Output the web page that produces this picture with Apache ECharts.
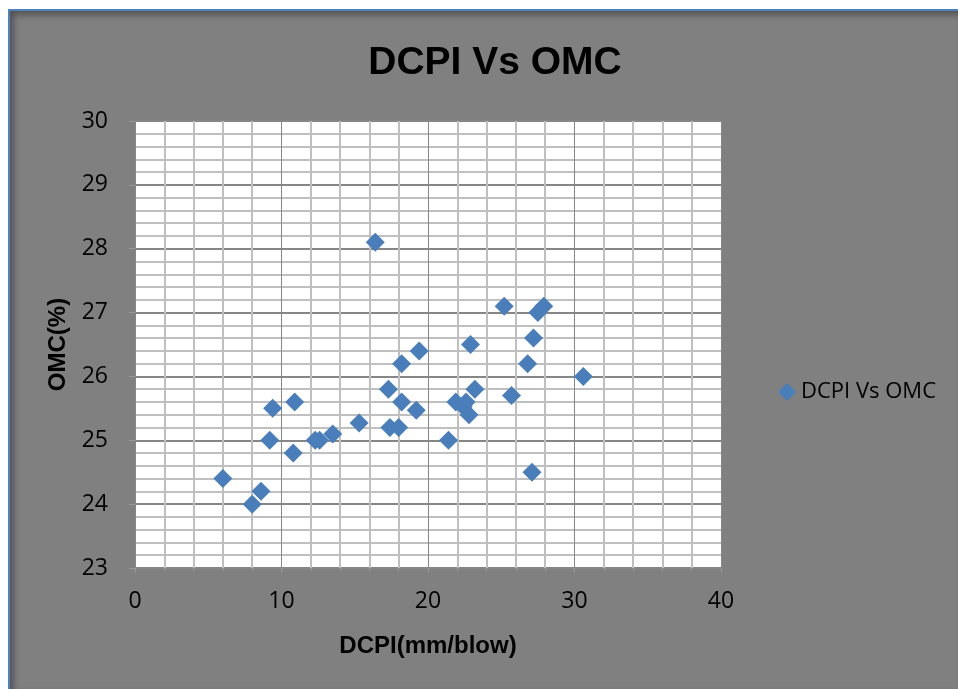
<!DOCTYPE html>
<html>
<head>
<meta charset="utf-8">
<script src="https://cdn.jsdelivr.net/npm/echarts@6/dist/echarts.min.js"></script>
<style>
  html, body { margin:0; padding:0; background:#ffffff; width:958px; height:689px; overflow:hidden; }
  #frame { position:absolute; left:8px; top:9px; width:950px; height:680px; background:#808080;
           border-left:2px solid #4f81bd; border-top:2px solid #4f81bd; box-sizing:border-box;
           box-shadow: inset 4px 4px 6px rgba(0,0,0,0.35); }
  #chart { position:absolute; left:0; top:0; width:958px; height:689px; }
</style>
</head>
<body>
<div id="frame"></div>
<div id="chart"></div>
<script>
const titleText = 'DCPI Vs OMC';
const seriesName = 'DCPI Vs OMC';
const xAxisName = 'DCPI(mm/blow)';
const yAxisName = 'OMC(%)';
const dcpi = [6.0, 8.0, 8.6, 9.2, 9.4, 10.9, 10.8, 12.3, 12.6, 13.5, 15.3, 16.4, 17.3, 17.4, 18.0, 18.2, 18.2, 19.2, 19.4, 21.4, 21.9, 22.4, 22.6, 22.8, 22.9, 23.2, 25.2, 25.7, 26.8, 27.1, 27.2, 27.5, 27.9, 30.6];
const omc  = [24.4, 24.0, 24.2, 25.0, 25.5, 25.6, 24.8, 25.0, 25.0, 25.1, 25.27, 28.1, 25.8, 25.2, 25.2, 26.2, 25.6, 25.47, 26.4, 25.0, 25.6, 25.53, 25.6, 25.4, 26.5, 25.8, 27.1, 25.7, 26.2, 24.5, 26.6, 27.0, 27.1, 26.0];

const chart = echarts.init(document.getElementById('chart'), null, {renderer:'canvas'});
const pts = dcpi.map((x, i) => [x, omc[i]]);
const boldFam = '"Liberation Sans", Arial, sans-serif';
const textFam = '"Open Sans", sans-serif';
chart.setOption({
  backgroundColor: 'transparent',
  animation: false,
  title: {
    text: titleText, left: 490, top: 39, textAlign: 'center',
    textStyle: { fontSize: 39, fontWeight: 'bold', color: '#000', fontFamily: boldFam }
  },
  legend: {
    left: 773, top: 376, itemWidth: 18, itemHeight: 18, itemGap: 5,
    data: [{ name: seriesName, icon: 'diamond' }],
    textStyle: { fontSize: 22, color: '#000', fontFamily: textFam }
  },
  grid: { left: 135, top: 121, width: 586, height: 447, show: true, backgroundColor: '#ffffff', borderWidth: 0 },
  xAxis: {
    type: 'value', min: 0, max: 40, interval: 10,
    name: xAxisName, nameLocation: 'middle', nameGap: 66,
    nameTextStyle: { fontSize: 24, fontWeight: 'bold', color: '#000', fontFamily: boldFam },
    axisLine: { show: false },
    axisTick: { show: true, length: 4, lineStyle: { color: '#9a9a9a' } },
    minorTick: { show: true, splitNumber: 5, length: 3, lineStyle: { color: '#9a9a9a' } },
    axisLabel: { fontSize: 23, color: '#000', margin: 22, fontFamily: textFam },
    splitLine: { show: true, lineStyle: { color: '#868686', width: 1 } },
    minorSplitLine: { show: true, lineStyle: { color: '#bfbfbf', width: 2 } }
  },
  yAxis: {
    type: 'value', min: 23, max: 30, interval: 1,
    name: yAxisName, nameLocation: 'middle', nameGap: 64, nameRotate: 90,
    nameTextStyle: { fontSize: 24, fontWeight: 'bold', color: '#000', fontFamily: boldFam },
    axisLine: { show: false },
    axisTick: { show: true, length: 6, lineStyle: { color: '#9a9a9a' } },
    minorTick: { show: false },
    axisLabel: { fontSize: 23, color: '#000', margin: 27, fontFamily: textFam },
    splitLine: { show: true, lineStyle: { color: '#868686', width: 2 } },
    minorSplitLine: { show: true, lineStyle: { color: '#bfbfbf', width: 2 } }
  },
  series: [{
    name: seriesName, type: 'scatter', symbol: 'diamond', symbolSize: 19,
    itemStyle: { color: '#4a7ebb', opacity: 1 },
    data: pts
  }]
});
</script>
</body>
</html>
